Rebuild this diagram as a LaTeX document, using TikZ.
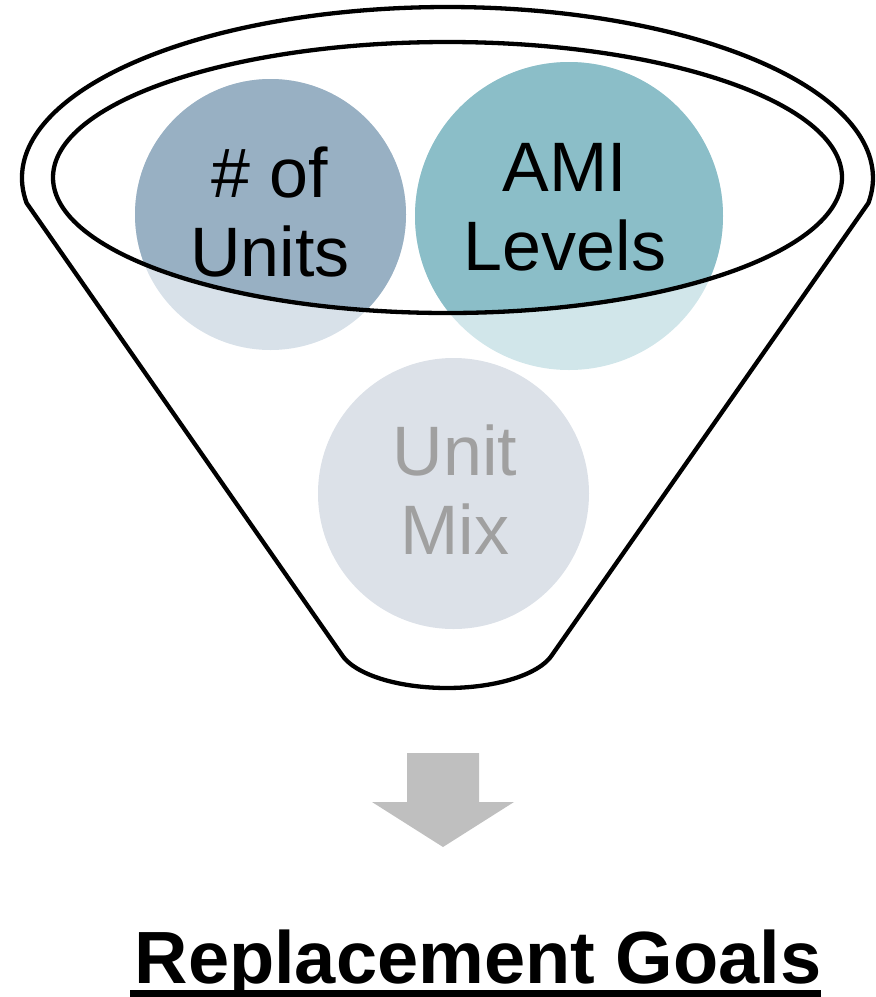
\documentclass[tikz,border=0pt]{standalone}
\usepackage{fontspec}
\setmainfont{Liberation Sans}

\definecolor{unitsDark}{HTML}{98B0C3}
\definecolor{unitsLight}{HTML}{D8E1E9}
\definecolor{amiDark}{HTML}{8BBEC8}
\definecolor{amiLight}{HTML}{D1E6EA}
\definecolor{mixFill}{HTML}{DCE1E8}
\definecolor{mixGray}{HTML}{A0A0A0}
\definecolor{arrowGray}{HTML}{BFBFBF}

\begin{document}
\begin{tikzpicture}[x=1pt,y=1pt,
  funnel/.style={draw=black, line width=4.3pt, line join=round},
  bubble/.style={circle, inner sep=0pt, draw=none},
  bubbletext/.style={font=\fontsize{70}{79}\selectfont, align=center, inner sep=0pt},
]
\useasboundingbox (0,0) rectangle (876,-997);

% funnel body: rim arc on top, straight sides, rounded spout
\draw[funnel] (447.5,-178) ++(188.4:425.5 and 171)
  arc[start angle=188.4, end angle=-8.4, x radius=425.5, y radius=171]
  -- (552,-655)
  arc[start angle=-15, end angle=-165, x radius=108.7, y radius=44.5]
  -- cycle;

% ingredient bubbles (pale outside the mouth)
\node[bubble, fill=unitsLight, minimum size=271pt] (units) at (270.5,-214.5) {};
\node[bubble, fill=amiLight, minimum size=308pt] (ami) at (569,-216) {};
\node[bubble, fill=mixFill, minimum size=271pt] (mix) at (453.5,-493.5) {};

% stronger colour where the bubbles sit inside the mouth
\begin{scope}
  \clip (447.5,-177.5) ellipse[x radius=394.5, y radius=135.5];
  \fill[unitsDark] (units.center) circle[radius=135.5];
  \fill[amiDark] (ami.center) circle[radius=154];
\end{scope}

% mouth of the funnel
\draw[funnel] (447.5,-177.5) ellipse[x radius=394.5, y radius=135.5];

% bubble labels
\node[bubbletext] (unitsText) at (270,-212) {\# of\\Units};
\node[bubbletext] (amiText) at (565,-207) {AMI\\Levels};
\node[bubbletext, text=mixGray] (mixText) at (455,-490) {Unit\\Mix};

% down arrow
\fill[arrowGray] (407,-753) -- (479,-753) -- (479,-802) -- (514,-802)
  -- (443,-847) -- (372,-802) -- (407,-802) -- cycle;

% result
\node[font=\fontsize{74}{80}\selectfont\bfseries, inner sep=0pt, anchor=base]
  (title) at (478,-983) {Replacement Goals};
\fill (130,-990) rectangle (821,-997);
\end{tikzpicture}
\end{document}
